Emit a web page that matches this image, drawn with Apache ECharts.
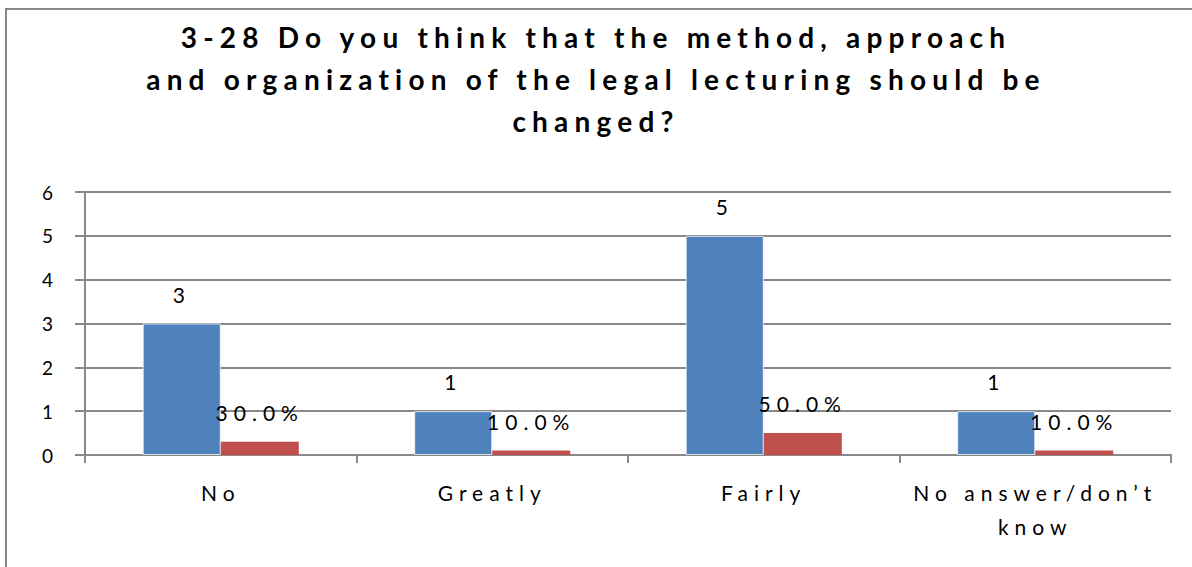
<!DOCTYPE html>
<html>
<head>
<meta charset="utf-8">
<script src="https://cdn.jsdelivr.net/npm/echarts@6/dist/echarts.min.js"></script>
<style>
  html, body { margin: 0; padding: 0; background: #fff; }
  #chart { width: 1192px; height: 567px; }
  /* spaced-out lettering for the title, category names and bar labels */
  #chart text:not([style*="19px"]) { letter-spacing: 6px; }
  #chart text[style*="28px"] { letter-spacing: 6.2px; }
</style>
</head>
<body>
<div id="chart"></div>
<script>
const chartTitle = '3-28 Do you think that the method, approach\nand organization of the legal lecturing should be\nchanged?';
const categories = ['No', 'Greatly', 'Fairly', 'No answer/don\u2019t know'];
const counts = [3, 1, 5, 1];
const shares = [0.3, 0.1, 0.5, 0.1];

const FONT = 'Lato';
const AXIS_GREY = '#898989';

const chart = echarts.init(document.getElementById('chart'), null, { renderer: 'svg' });

chart.setOption({
  animation: false,
  backgroundColor: '#fff',
  title: {
    text: chartTitle,
    left: 'center',
    top: 16,
    padding: 0,
    textStyle: {
      fontFamily: FONT,
      fontSize: 28,
      fontWeight: 'bold',
      color: '#000',
      lineHeight: 42
    }
  },
  graphic: [{
    type: 'rect',
    silent: true,
    z: -10,
    shape: { x: 6, y: 9, width: 1220, height: 620 },
    style: { fill: 'none', stroke: '#888', lineWidth: 2 }
  }],
  grid: { left: 85, right: 21, top: 192, bottom: 112, containLabel: false },
  xAxis: {
    type: 'category',
    data: categories,
    axisLine: { lineStyle: { color: AXIS_GREY, width: 2 } },
    axisTick: { show: true, length: 8, lineStyle: { color: AXIS_GREY, width: 2 } },
    axisLabel: {
      interval: 0,
      margin: 20,
      fontFamily: FONT,
      fontSize: 21,
      lineHeight: 34,
      color: '#000',
      formatter: v => v.length > 12 ? v.replace(/ (?=\S+$)/, '\n') : v
    }
  },
  yAxis: {
    type: 'value',
    min: 0,
    max: 6,
    interval: 1,
    axisLine: { show: true, lineStyle: { color: AXIS_GREY, width: 2 } },
    axisTick: { show: true, length: 10, lineStyle: { color: AXIS_GREY, width: 2 } },
    splitLine: { show: true, lineStyle: { color: AXIS_GREY, width: 2 } },
    axisLabel: { margin: 32, fontFamily: FONT, fontSize: 19, color: '#000' }
  },
  series: [
    {
      name: 'Count',
      type: 'bar',
      data: counts,
      barGap: 0,
      barCategoryGap: '42.5%',
      itemStyle: { color: '#4F81BD', borderColor: 'rgba(255,255,255,0.75)', borderWidth: 1 },
      label: {
        show: true,
        position: 'top',
        distance: 19,
        fontFamily: FONT,
        fontSize: 21,
        color: '#000'
      }
    },
    {
      name: 'Share',
      type: 'bar',
      data: shares,
      barGap: 0,
      barCategoryGap: '42.5%',
      itemStyle: { color: '#C0504D' },
      label: {
        show: true,
        position: 'top',
        distance: 19,
        fontFamily: FONT,
        fontSize: 21,
        color: '#000',
        formatter: p => (p.value * 100).toFixed(1) + '%'
      }
    }
  ]
});
</script>
</body>
</html>
